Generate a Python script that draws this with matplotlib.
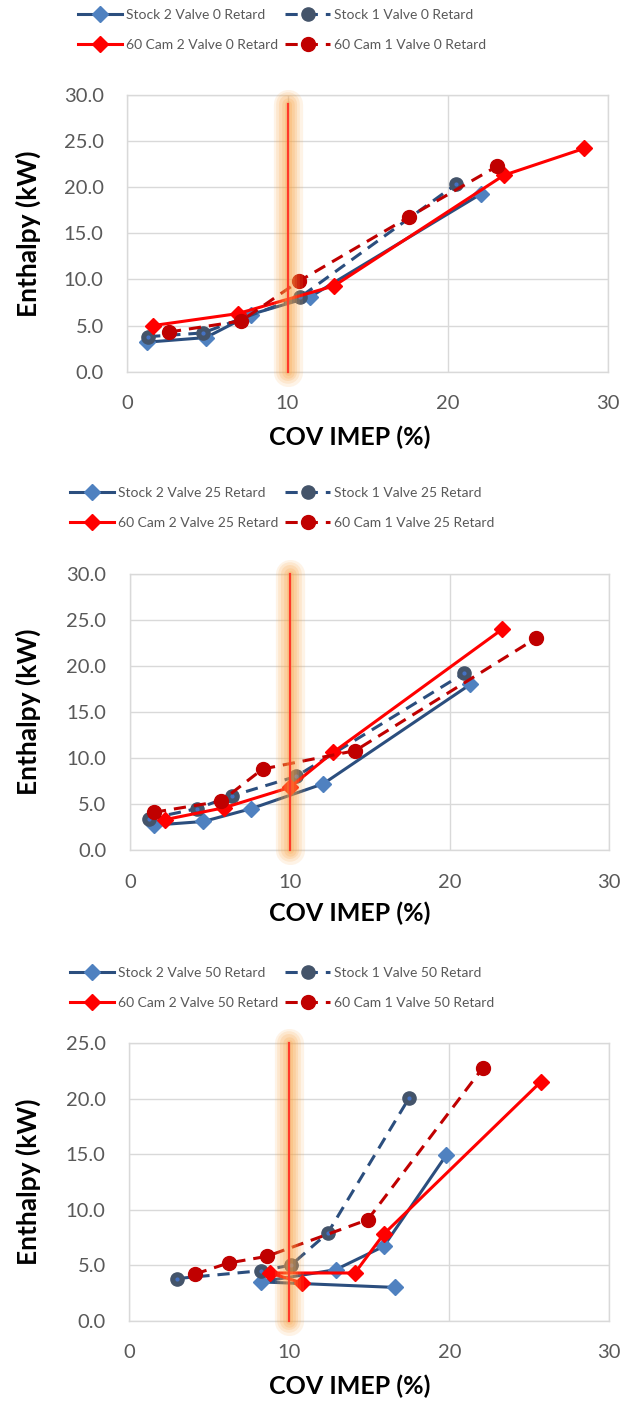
import matplotlib
matplotlib.use("Agg")
import matplotlib.pyplot as plt
from matplotlib.ticker import FormatStrFormatter

plt.rcParams['font.family'] = ['Lato', 'DejaVu Sans']

# ---- data: COV IMEP (%) vs Enthalpy (kW) for three spark-retard settings ----
retards = ["0", "25", "50"]

stock2_x = [[1.2, 4.9, 7.7, 11.4, 22.1],
            [1.5, 4.6, 7.6, 12.1, 21.3],
            [16.6, 8.2, 12.9, 15.9, 19.8]]
stock2_y = [[3.2, 3.7, 6.2, 8.1, 19.3],
            [2.7, 3.1, 4.5, 7.2, 18.0],
            [3.0, 3.5, 4.6, 6.7, 14.9]]

stock1_x = [[1.3, 4.7, 10.8, 20.5],
            [1.2, 4.2, 6.4, 10.4, 20.9],
            [3.0, 8.2, 10.1, 12.4, 17.5]]
stock1_y = [[3.8, 4.2, 8.1, 20.3],
            [3.4, 4.5, 5.9, 8.0, 19.2],
            [3.8, 4.5, 5.0, 7.9, 20.1]]

cam2_x = [[1.6, 6.9, 12.9, 23.5, 28.5],
          [2.2, 5.9, 10.0, 12.7, 23.3],
          [10.8, 8.8, 14.1, 15.9, 25.7]]
cam2_y = [[5.0, 6.3, 9.3, 21.3, 24.2],
          [3.3, 4.6, 6.8, 10.6, 24.0],
          [3.4, 4.3, 4.3, 7.8, 21.5]]

cam1_x = [[2.6, 7.1, 10.7, 17.6, 23.1],
          [1.5, 5.7, 8.3, 14.1, 25.4],
          [4.1, 6.2, 8.6, 14.9, 22.1]]
cam1_y = [[4.3, 5.5, 9.8, 16.8, 22.3],
          [4.1, 5.3, 8.8, 10.8, 23.0],
          [4.2, 5.2, 5.8, 9.1, 22.8]]

y_max = [30, 30, 25]
limit_x = 10            # COV IMEP stability limit
limit_top = [29, 30, 25]

# ---- styling ----
W, H = 631, 1412
DPI = 100
NAVY = "#2B4E7E"
LIGHT_BLUE = "#4F81C0"
SLATE = "#44546A"
RED = "#FF0000"
DARK_RED = "#C00000"
GRID = "#D9D9D9"
TEXT = "#595959"
LW = 2.2
DASH = (4, 2.6)

# axes boxes in pixels: (left, top, right, bottom)
boxes = [(127.3, 95, 608, 371.7),
         (130, 574, 609.3, 850),
         (129.3, 1043.3, 609.3, 1320.7)]
legend_cy = [30, 508, 988]
xlabel_y = [437, 913, 1386]
xlabel_x = 350
ylabel_x = 28

fig = plt.figure(figsize=(W / DPI, H / DPI), dpi=DPI)

for i in range(3):
    l, t, r, b = boxes[i]
    ax = fig.add_axes([l / W, 1 - b / H, (r - l) / W, (b - t) / H])
    ax.set_xlim(0, 30)
    ax.set_ylim(0, y_max[i])
    ax.set_xticks([0, 10, 20, 30])
    ax.set_yticks(range(0, y_max[i] + 1, 5))
    ax.yaxis.set_major_formatter(FormatStrFormatter('%.1f'))
    ax.grid(True, color=GRID, linewidth=1.0)
    ax.set_axisbelow(True)
    for sp in ax.spines.values():
        sp.set_color(GRID)
        sp.set_linewidth(1.0)
    ax.tick_params(length=0, labelsize=14.5, colors=TEXT)
    ax.tick_params(axis='y', pad=17)
    ax.tick_params(axis='x', pad=17)

    h_s2, = ax.plot(stock2_x[i], stock2_y[i], color=NAVY, lw=LW, marker='D',
                    ms=8, mfc=LIGHT_BLUE, mec=LIGHT_BLUE, zorder=3,
                    label=f"Stock 2 Valve {retards[i]} Retard")
    h_s1, = ax.plot(stock1_x[i], stock1_y[i], color=NAVY, lw=LW, ls=(0, DASH),
                    marker='o', ms=9.5, mfc=SLATE, mec=SLATE, zorder=3,
                    label=f"Stock 1 Valve {retards[i]} Retard")
    ax.plot(stock1_x[i], stock1_y[i], ls='none', marker='o', ms=2,
            mfc="#4472C4", mec="#4472C4", zorder=3)
    h_c2, = ax.plot(cam2_x[i], cam2_y[i], color=RED, lw=LW, marker='D',
                    ms=8, mfc=RED, mec=RED, zorder=4,
                    label=f"60 Cam 2 Valve {retards[i]} Retard")
    h_c1, = ax.plot(cam1_x[i], cam1_y[i], color=DARK_RED, lw=LW, ls=(0, DASH),
                    marker='o', ms=10, mfc=DARK_RED, mec=DARK_RED, zorder=4,
                    label=f"60 Cam 1 Valve {retards[i]} Retard")

    # soft orange glow around the limit line
    for w, a in [(21, 0.13), (17, 0.15), (13, 0.18), (9, 0.20), (5, 0.22)]:
        ax.plot([limit_x, limit_x], [0, limit_top[i]], color="#F9A445",
                lw=w, alpha=a, solid_capstyle='round', zorder=5, clip_on=False)
    ax.plot([limit_x, limit_x], [0, limit_top[i]], color="#FF3A2A",
            lw=1.6, zorder=6, clip_on=False)

    ax.set_ylabel("Enthalpy (kW)", fontsize=19, fontweight='bold', color='black',
                  va='center')
    ax.yaxis.set_label_coords((ylabel_x - l) / (r - l), 0.5)
    ax.set_xlabel("COV IMEP (%)", fontsize=18, fontweight='bold', color='black',
                  va='center')
    ax.xaxis.set_label_coords((xlabel_x - l) / (r - l),
                              -(xlabel_y[i] - b) / (b - t))

    fig.legend(handles=[h_s2, h_c2, h_s1, h_c1], ncol=2, frameon=False,
               loc='center', bbox_to_anchor=(282 / W, 1 - legend_cy[i] / H),
               fontsize=10, labelcolor=TEXT, handlelength=3.2,
               handletextpad=0.3, columnspacing=0.5, labelspacing=1.3,
               borderpad=0)

fig.savefig("out.png", dpi=DPI)
